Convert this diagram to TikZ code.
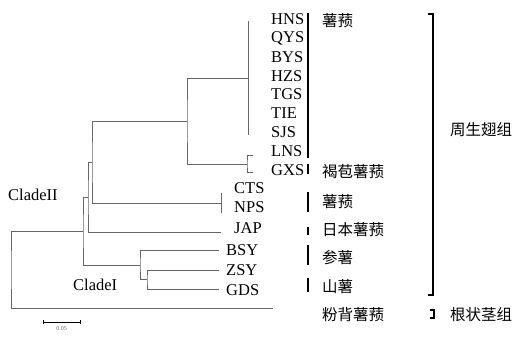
\documentclass[tikz,border=0pt]{standalone}
\usepackage{fontspec}
\setmainfont{Liberation Serif}
\newfontfamily\cjk{Noto Sans CJK SC}
\usepackage{tikz}

\begin{document}
\begin{tikzpicture}[
  x=1pt, y=-1pt,
  branch/.style={draw=black!60, line width=0.9pt},
  taxon/.style={anchor=west, inner sep=0pt, font=\fontsize{16.5}{18}\selectfont},
  grp/.style={anchor=west, inner sep=0pt, font=\cjk\fontsize{15.5}{17}\selectfont},
  bar/.style={draw=black, line width=1.6pt},
]
\useasboundingbox (0,0) rectangle (518,344);

% Tips and internal nodes of the tree
\coordinate (hnsT) at (248,21);
\coordinate (sjsT) at (248,135);
\coordinate (c1) at (248,78);
\coordinate (lnsT) at (253,155);
\coordinate (gxsT) at (253,172);
\coordinate (gx) at (247,164);
\coordinate (n2) at (187,121.5);
\coordinate (ctsT) at (221,193);
\coordinate (npsT) at (221,213);
\coordinate (ct) at (221,203);
\coordinate (n3) at (92,162.5);
\coordinate (japT) at (221,232);
\coordinate (n4) at (88,197.5);
\coordinate (bsyT) at (219,250);
\coordinate (zsyT) at (219,270);
\coordinate (gdsT) at (219,289);
\coordinate (n7) at (147,279.5);
\coordinate (n6) at (140,265);
\coordinate (n5) at (83,231.5);
\coordinate (outT) at (273,308);
\coordinate (root) at (11,270);

% Draw branches
\draw[branch] (hnsT) -- (sjsT);
\draw[branch] (lnsT) -| (gx) |- (gxsT);
\draw[branch] (c1) -| (n2) |- (gx);
\draw[branch] (ctsT) -- (npsT);
\draw[branch] (n2) -| (n3) |- (ct);
\draw[branch] (n3) -| (n4) |- (japT);
\draw[branch] (zsyT) -| (n7) |- (gdsT);
\draw[branch] (bsyT) -| (n6) |- (n7);
\draw[branch] (n4) -| (n5) |- (n6);
\draw[branch] (n5) -| (root) |- (outT);

% Taxon labels
\foreach \name [count=\i from 0] in {HNS,QYS,BYS,HZS,TGS,TIE,SJS,LNS,GXS}
  \node[taxon] (t\name) at (271,{19+18.9*\i}) {\name};
\node[taxon] (tCTS) at (234,188) {CTS};
\node[taxon] (tNPS) at (234,207) {NPS};
\node[taxon] (tJAP) at (234,228) {JAP};
\node[taxon] (tBSY) at (226,250) {BSY};
\node[taxon] (tZSY) at (226,270) {ZSY};
\node[taxon] (tGDS) at (226,290) {GDS};

\node[taxon] (clade2) at (8,195) {CladeII};
\node[taxon] (clade1) at (73,285) {CladeI};

% Species bars
\draw[bar] (308,13) -- (308,158);
\draw[bar] (308,164) -- (308,174);
\draw[bar] (308,192) -- (308,212);
\draw[bar] (308,227) -- (308,235);
\draw[bar] (308,245) -- (308,265);
\draw[bar] (308,278) -- (308,292);

\node[grp] (sp1) at (322,21) {薯蓣};
\node[grp] (sp2) at (322,172) {褐苞薯蓣};
\node[grp] (sp3) at (322,202) {薯蓣};
\node[grp] (sp4) at (322,230) {日本薯蓣};
\node[grp] (sp5) at (322,258) {参薯};
\node[grp] (sp6) at (322,287) {山薯};
\node[grp] (sp7) at (322,315) {粉背薯蓣};

% Section brackets
\draw[bar, line width=1.4pt] (428,14) -- (433,14) -- (433,295) -- (428,295);
\draw[bar, line width=1.4pt] (430,310) -- (434,310) -- (434,318) -- (430,318);
\node[grp] (sec1) at (450,130) {周生翅组};
\node[grp] (sec2) at (450,315) {根状茎组};

% Scale bar
\draw[black, line width=0.9pt] (43,320) -- (43,324) (43,322) -- (80,322) (80,320) -- (80,324);
\node[inner sep=0pt, font=\fontsize{6}{6}\selectfont, black!60] (scale) at (61.5,328.5) {0.05};
\end{tikzpicture}
\end{document}
